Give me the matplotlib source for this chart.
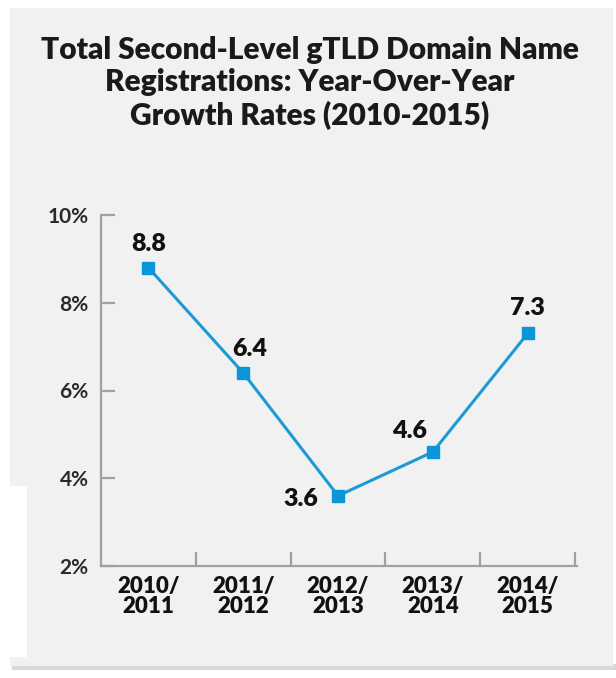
import matplotlib.pyplot as plt
from matplotlib.patches import Rectangle

periods = ['2010/\n2011', '2011/\n2012', '2012/\n2013', '2013/\n2014', '2014/\n2015']
growth = [8.8, 6.4, 3.6, 4.6, 7.3]
yticks = [2, 4, 6, 8, 10]
ytick_labels = ['2%', '4%', '6%', '8%', '10%']

W, H = 616, 678
fig = plt.figure(figsize=(W / 100, H / 100), dpi=100)
fig.patch.set_facecolor('white')

# gray panel, shadow and the white notch on the left
fig.patches.append(Rectangle((12 / W, 1 - 670 / H), 604 / W, 6 / H, transform=fig.transFigure,
                             facecolor='#d8d8d8', edgecolor='none', zorder=-3))
fig.patches.append(Rectangle((10 / W, 1 - 666 / H), 603 / W, 658 / H, transform=fig.transFigure,
                             facecolor='#f1f1f1', edgecolor='none', zorder=-2))
fig.patches.append(Rectangle((0, 1 - 657 / H), 27 / W, 171 / H, transform=fig.transFigure,
                             facecolor='white', edgecolor='none', zorder=-1))

font = ['Lato', 'DejaVu Sans']

fig.text(310 / W, 1 - 83 / H,
         'Total Second-Level gTLD Domain Name\nRegistrations: Year-Over-Year\nGrowth Rates (2010-2015)',
         ha='center', va='center', fontsize=21.5, fontweight='heavy', family=font,
         color='#1a1a1a', linespacing=1.2)

ax = fig.add_axes([101 / W, 1 - 566 / H, 476 / W, 351 / H])
ax.set_facecolor('none')
x = list(range(len(growth)))
ax.plot(x, growth, color='#1d9ad6', lw=2.2, marker='s', ms=8, mfc='#0a96d8', mec='#0a96d8',
        clip_on=False, zorder=3)

ax.set_xlim(-0.5, 4.52)
ax.set_ylim(2, 10)
for s in ['top', 'right']:
    ax.spines[s].set_visible(False)
for s in ['left', 'bottom']:
    ax.spines[s].set_color('#a0a0a0')
    ax.spines[s].set_linewidth(1.6)

ax.set_yticks(yticks)
ax.set_yticklabels(ytick_labels, family=font, fontsize=15, fontweight='bold', color='#2a2a2a')
ax.tick_params(axis='y', direction='in', length=10, width=1.6, color='#a0a0a0', pad=9)

ax.set_xticks([i + 0.5 for i in x])
ax.set_xticklabels([])
ax.tick_params(axis='x', direction='in', length=10, width=1.6, color='#a0a0a0')
for i, lab in enumerate(periods):
    ax.annotate(lab, (i, 0), xycoords=('data', 'axes fraction'), xytext=(0, -7),
                textcoords='offset points', ha='center', va='top',
                fontsize=16, fontweight='heavy', family=font, color='#111111',
                linespacing=0.95)

# data labels, offsets in points
offsets = [(0, 17), (5, 17), (-27, -2), (-17, 15), (0, 18)]
for xi, yi, off in zip(x, growth, offsets):
    ax.annotate(f'{yi:.1f}', (xi, yi), xytext=off, textcoords='offset points',
                ha='center', va='center', fontsize=18, fontweight='heavy', family=font,
                color='#111111')

fig.savefig('out.png', dpi=100)
